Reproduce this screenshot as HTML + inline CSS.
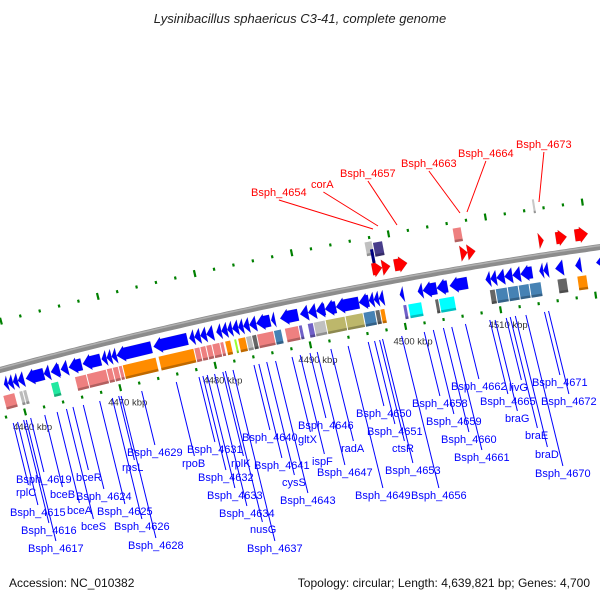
<!DOCTYPE html>
<html><head><meta charset="utf-8"><style>
html,body{margin:0;padding:0;background:#fff;}
svg{display:block;font-family:"Liberation Sans","DejaVu Sans",sans-serif;}
</style></head><body>
<svg id="chart" width="600" height="600" viewBox="0 0 600 600" xmlns="http://www.w3.org/2000/svg">
<rect width="600" height="600" fill="#fff"/>
<text x="300" y="23" text-anchor="middle" font-size="13" font-style="italic" fill="#222">Lysinibacillus sphaericus C3-41, complete genome</text>
<g id="ticks"></g>
<g id="bb"></g>
<g id="genes"></g>
<g id="lbl"></g>
<text x="9" y="587" font-size="12" fill="#111">Accession: NC_010382</text>
<text x="590" y="587" text-anchor="end" font-size="12" fill="#111">Topology: circular; Length: 4,639,821 bp; Genes: 4,700</text>
</svg>
<script>
const minusStart=[0,4,9,14,22,40,47,57,65,79,98,103,108,113,150,186,191,197,203,213,218,224,229,235,240,246,253,268,277,297,305,313,322,333,356,366,371,376,397,415,420,434,447,483,488,494,502,510,518,537,541,553,573,594];
const minusEnd=[4,9,14,20,40,46,56,64,78,97,103,108,113,148,184,191,197,203,210,218,224,229,235,240,246,253,267,272,295,305,313,322,333,356,366,371,376,381,401,420,434,445,465,488,494,502,510,518,530,541,546,561,579,606];
const plusStart=[375,385,397,463,470,541,558,577];
const plusEnd=[385,393,410,470,478,546,569,590];
const boxStart=[-4,12,16,44,68,80,100,106,112,116,152,188,194,200,206,214,219,228,232,240,246,251,268,279,293,302,308,320,340,358,370,375,398,403,430,434,485,491,503,514,525,553,573];
const boxEnd=[8,16,20,52,80,100,106,112,116,150,188,194,200,206,214,218,225,231,240,246,251,268,276,293,297,308,320,340,358,370,375,380,402,417,434,450,491,503,514,525,537,563,583];
const boxColor=['#ee8080','#bbbbbb','#bbbbbb','#22e8a0','#ee8080','#ee8080','#ee8080','#ee8080','#ee8080','#ff8c00','#ff8c00','#ee8080','#ee8080','#ee8080','#ee8080','#ee8080','#ff8c00','#99ff33','#ff8c00','#bbbbbb','#666666','#ee8080','#4682b4','#ee8080','#7060c8','#7060c8','#c0c0c0','#bdb76b','#bdb76b','#4682b4','#666666','#ff8c00','#7060c8','#00ffff','#666666','#00ffff','#666666','#4682b4','#4682b4','#4682b4','#4682b4','#666666','#ff8c00'];
const upBoxStart=[372,380,376,459,540];
const upBoxEnd=[380,390,380,468,543];
const upBoxOff=[-36,-34,-28,-34,-50];
const upBoxColor=['#c0c0c0','#483d8b','#000080','#ee8080','#c8c8c8'];
const kbpStart=4456, kbpEnd=4522;
const kbpLabels=[4460,4470,4480,4490,4500,4510];
const blueNames=['Bsph_4619','rplC','Bsph_4615','Bsph_4616','Bsph_4617','bceR','bceB','bceA','bceS','Bsph_4624','Bsph_4625','Bsph_4626','Bsph_4628','Bsph_4629','rpsL','Bsph_4631','rpoB','rplK','Bsph_4632','Bsph_4633','Bsph_4634','nusG','Bsph_4637','Bsph_4640','Bsph_4641','cysS','Bsph_4643','Bsph_4646','gltX','ispF','radA','Bsph_4647','Bsph_4650','Bsph_4651','ctsR','Bsph_4653','Bsph_4649','Bsph_4656','Bsph_4658','Bsph_4659','Bsph_4660','Bsph_4661','Bsph_4662','livG','Bsph_4665','braG','braE','braD','Bsph_4670','Bsph_4671','Bsph_4672'];
const blueX=[16,16,10,21,28,76,50,67,81,76,97,114,128,127,122,187,182,231,198,207,219,250,247,242,254,282,280,298,298,312,341,317,356,367,392,385,355,411,412,426,441,454,451,509,480,505,525,535,535,532,541];
const blueY=[483,496,516,534,552,481,498,514,530,500,515,530,549,456,471,453,467,467,481,499,517,533,552,441,469,486,504,429,443,465,452,476,417,435,452,474,499,499,407,425,443,461,390,391,405,422,439,458,477,386,405];
const redNames=['Bsph_4654','corA','Bsph_4657','Bsph_4663','Bsph_4664','Bsph_4673'];
const redX=[251,311,340,401,458,516];
const redY=[196,188,177,167,157,148];
const redTX=[373,378,397,460,467,539];
const redTY=[229,226,225,213,212,202];

const NS='http://www.w3.org/2000/svg';
function bb(s){return 370-0.2683*s+0.0001056*s*s;}
function slope(s){return -0.2683+2*0.0001056*s;}
function P(s,off){const d=slope(s),n=Math.sqrt(1+d*d);return [s+off*(-d)/n, bb(s)+off*(1)/n];}
function mk(tag,attrs,parent){const e=document.createElementNS(NS,tag);for(const k in attrs)e.setAttribute(k,attrs[k]);parent.appendChild(e);return e;}
function pts(a){return a.map(p=>p[0].toFixed(1)+','+p[1].toFixed(1)).join(' ');}
const gT=document.getElementById('ticks'),gB=document.getElementById('bb'),gG=document.getElementById('genes'),gL=document.getElementById('lbl');

// backbone
let upperEdge=[],lowerEdge=[];
for(let s=-10;s<=610;s+=5){upperEdge.push(P(s,-3));lowerEdge.unshift(P(s,3));}
const band=mk('polygon',{points:pts(upperEdge.concat(lowerEdge)),fill:'#8c8c8c'},gB);


let hl=[];for(let s=-10;s<=610;s+=5)hl.push(P(s,-1.5));
mk('polyline',{points:pts(hl),fill:'none',stroke:'#b0b0b0','stroke-width':1.5},gB);

// ticks
function kx(k){return 109+(k-4470)*9.6;}
for(let k=kbpStart;k<=kbpEnd;k+=2){
  const s=kx(k),lng=(k%10===0);
  [-47,47].forEach(o=>{
    const h=lng?3.5:1.5;const a=P(s,o-h),b=P(s,o+h);
    const t=mk('line',{x1:a[0],y1:a[1],x2:b[0],y2:b[1],stroke:'#008000','stroke-width':2.2},gT);
    
    
  });
}
kbpLabels.forEach(k=>{
  const p=P(kx(k),47);
  const t=mk('text',{x:p[0]-12,y:p[1]+18,'font-size':9.5,fill:'#333'},gL);
  t.textContent=k+' kbp';
  
  
});

// arrows
function arrow(s1,s2,off,dir,color,name){
  const len=s2-s1,hd=Math.min(8,len),bh=6,hh=8;
  let poly;
  if(dir<0){poly=[P(s1,off),P(s1+hd,off-hh),P(s1+hd,off-bh),P(s2,off-bh),P(s2,off+bh),P(s1+hd,off+bh),P(s1+hd,off+hh)];}
  else{poly=[P(s2,off),P(s2-hd,off-hh),P(s2-hd,off-bh),P(s1,off-bh),P(s1,off+bh),P(s2-hd,off+bh),P(s2-hd,off+hh)];}
  const e=mk('polygon',{points:pts(poly),fill:color,stroke:'rgba(0,0,0,0.15)','stroke-width':0.5},gG);
  
  
}
for(let i=0;i<minusStart.length;i++)arrow(minusStart[i],minusEnd[i],15,-1,'#0000ff','minus-strand-gene');
for(let i=0;i<plusStart.length;i++)arrow(plusStart[i],plusEnd[i],-15,1,'#ff0000','plus-strand-gene');
function box(s1,s2,off,color,name){
  const poly=[P(s1+0.5,off-7),P(s2-0.5,off-7),P(s2-0.5,off+7),P(s1+0.5,off+7)];
  const e=mk('polygon',{points:pts(poly),fill:color},gG);
  
  
  const sh=[P(s1+0.5,off+4.5),P(s2-0.5,off+4.5),P(s2-0.5,off+7),P(s1+0.5,off+7)];
  mk('polygon',{points:pts(sh),fill:'rgba(0,0,0,0.25)'},gG);
}
for(let i=0;i<boxStart.length;i++)box(boxStart[i],boxEnd[i],33,boxColor[i],'feature-box');
for(let i=0;i<upBoxStart.length;i++)box(upBoxStart[i],upBoxEnd[i],upBoxOff[i],upBoxColor[i],'upper-feature-box');

// blue labels
for(let i=0;i<blueNames.length;i++){
  const t=mk('text',{x:blueX[i],y:blueY[i],'font-size':11,fill:'#0000ff'},gL);
  t.textContent=blueNames[i];
  
  
  const w=blueNames[i].length*6.2;
  const ex=blueX[i]+w*0.5,ey=blueY[i]-11;
  let x=ex,y=ey;
  while(y>bb(x)+57){x-=0.245;y-=1;}
  const l=mk('line',{x1:x,y1:y,x2:ex,y2:ey,stroke:'#0000ff','stroke-width':1},gL);
  
  
}
for(let i=0;i<redNames.length;i++){
  const t=mk('text',{x:redX[i],y:redY[i],'font-size':11,fill:'#ff0000'},gL);
  t.textContent=redNames[i];
  
  
  const w=redNames[i].length*6.2;
  const l=mk('line',{x1:redX[i]+w*0.5,y1:redY[i]+4,x2:redTX[i],y2:redTY[i],stroke:'#ff0000','stroke-width':1},gL);
  
  
}
</script>
</body></html>
